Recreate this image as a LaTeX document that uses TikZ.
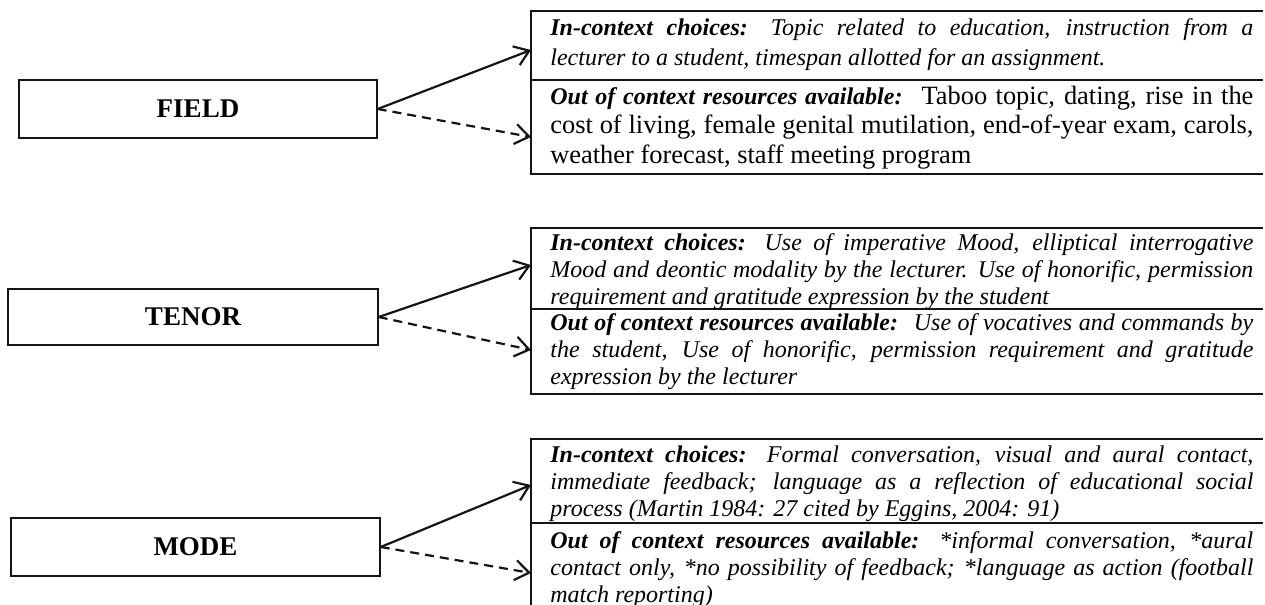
\documentclass[tikz,border=0pt]{standalone}
\usepackage{fontspec}
\setmainfont{Liberation Serif}
\usepackage{tikz}
\usetikzlibrary{arrows.meta,positioning}
\definecolor{ink}{HTML}{141414}

\tikzset{
  catbox/.style={draw=ink, line width=0.7pt, minimum height=29pt, inner sep=0pt,
    font=\fontsize{13.5}{16}\selectfont\bfseries},
  optext/.style={anchor=base west, inner sep=0pt, text width=351.5pt, align=justify,
    font=\fontsize{12}{13.5}\selectfont\itshape},
  panel/.style={draw=ink, line width=0.8pt},
  choice/.style={draw=ink, line width=1.1pt, -{Straight Barb[length=7pt,width=10pt]}},
  resource/.style={choice, dash pattern=on 4.5pt off 3pt},
}

\begin{document}
\begin{tikzpicture}[x=0.5pt, y=-0.5pt]
\useasboundingbox (0,0) rectangle (1265,605);
% register variables
\node[catbox, minimum width=179pt] (field) at (198,109) {FIELD};
\node[catbox, minimum width=185pt, minimum height=28pt] (tenor) at (193,317) {TENOR};
\node[catbox, minimum width=184.5pt] (mode) at (195.5,547) {MODE};
% panels on the right
\draw[panel] (1263,11) -- (531,11) -- (531,174) -- (1263,174);
\draw[panel] (531,80) -- (1263,80);
\draw[panel] (1263,228) -- (531,228) -- (531,394) -- (1263,394);
\draw[panel] (531,309) -- (1263,309);
\draw[panel] (1263,439) -- (531,439) -- (531,605);
\draw[panel] (531,523) -- (1263,523);
% field
\node[optext, font=\fontsize{12}{15}\selectfont\itshape] (field-a) at (550,35)
  {\textbf{In-context choices:} Topic related to education, instruction from a\linebreak
   lecturer to a student, timespan allotted for an assignment.};
\node[optext, font=\fontsize{12}{15}\selectfont\itshape] (field-b) at (550,104)
  {\textbf{Out of context resources available:}~ \upshape\fontsize{13.2}{15.5}\selectfont
   Taboo topic, dating, rise in the\linebreak
   cost of living, female genital mutilation, end-of-year exam, carols,\linebreak
   weather forecast, staff meeting program};
% tenor
\node[optext] (tenor-a) at (550,250)
  {\textbf{In-context choices:} Use of imperative Mood, elliptical interrogative\linebreak
   Mood and deontic modality by the lecturer. Use of honorific, permission\linebreak
   requirement and gratitude expression by the student};
\node[optext] (tenor-b) at (550,330)
  {\textbf{Out of context resources available:}~ Use of vocatives and commands by\linebreak
   the student, Use of honorific, permission requirement and gratitude\linebreak
   expression by the lecturer};
% mode
\node[optext] (mode-a) at (550,462)
  {\textbf{In-context choices:} Formal conversation, visual and aural contact,\linebreak
   immediate feedback; language as a reflection of educational social\linebreak
   process (Martin 1984: 27 cited by Eggins, 2004: 91)};
\node[optext] (mode-b) at (550,548)
  {\textbf{Out of context resources available:} *informal conversation, *aural\linebreak
   contact only, *no possibility of feedback; *language as action (football\linebreak
   match reporting)};
% arrow ends
\coordinate (field-in) at (531,50);
\coordinate (field-out) at (531,137);
\coordinate (tenor-in) at (531,265);
\coordinate (tenor-out) at (531,350);
\coordinate (mode-in) at (531,485);
\coordinate (mode-out) at (531,573);
\foreach \r in {field, tenor, mode} {
  \draw[choice] (\r.east) -- (\r-in);
  \draw[resource] (\r.east) -- (\r-out);
}
\end{tikzpicture}
\end{document}
